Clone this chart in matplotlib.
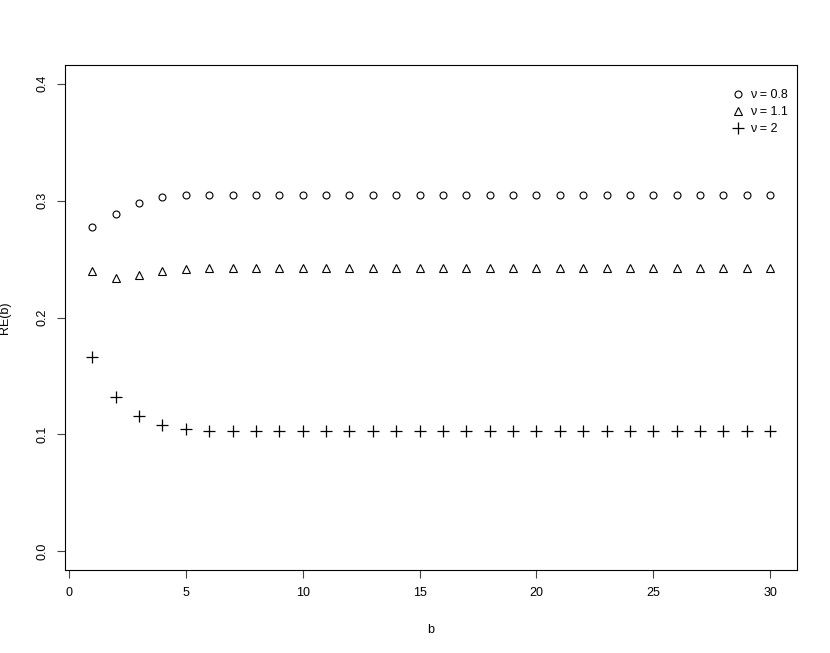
import matplotlib
matplotlib.use("Agg")
import matplotlib.pyplot as plt

plt.rcParams['font.family'] = ['Liberation Sans', 'DejaVu Sans']

b = list(range(1, 31))
re_nu08 = [0.2776, 0.2887, 0.2980, 0.3028, 0.3045] + [0.3051] * 25
re_nu11 = [0.2398, 0.2341, 0.2367, 0.2401, 0.2418] + [0.2426] * 25
re_nu2 = [0.1663, 0.1320, 0.1155, 0.1078, 0.1050] + [0.1032] * 25
labels = ["ν = 0.8", "ν = 1.1", "ν = 2"]
xticks = [0, 5, 10, 15, 20, 25, 30]
yticks = [0.0, 0.1, 0.2, 0.3, 0.4]

fig = plt.figure(figsize=(8.3, 6.53), dpi=100)
ax = fig.add_axes([65/830, 1-570/653, (797-65)/830, (570-65)/653])

ax.plot(b, re_nu08, linestyle='none', marker='o', markersize=5.0,
        markerfacecolor='none', markeredgecolor='black', markeredgewidth=0.8, label=labels[0])
ax.plot(b, re_nu11, linestyle='none', marker='^', markersize=6.0,
        markerfacecolor='none', markeredgecolor='black', markeredgewidth=0.8, label=labels[1])
ax.plot(b, re_nu2, linestyle='none', marker='+', markersize=8.0,
        markeredgecolor='black', markeredgewidth=0.9, label=labels[2])

ax.set_xlim(-0.17, 31.15)
ax.set_ylim(-0.016, 0.416)
ax.set_xticks(xticks)
ax.set_xticklabels([str(t) for t in xticks])
ax.set_yticks(yticks)
ax.set_yticklabels([f"{t:.1f}" for t in yticks], rotation=90, va='center')
ax.tick_params(axis='both', labelsize=9, length=6, width=0.8, color='#444444', pad=6)
for s in ax.spines.values():
    s.set_linewidth(0.8)

ax.set_xlabel("b", fontsize=9, labelpad=18)
ax.set_ylabel("RE(b)", fontsize=9, labelpad=18)

ax.legend(loc='upper right', bbox_to_anchor=(1.0, 0.97), frameon=False, fontsize=9,
          handlelength=1.0, handletextpad=0.5, labelspacing=0.4, borderaxespad=0.3)

fig.savefig("out.png", dpi=100)
